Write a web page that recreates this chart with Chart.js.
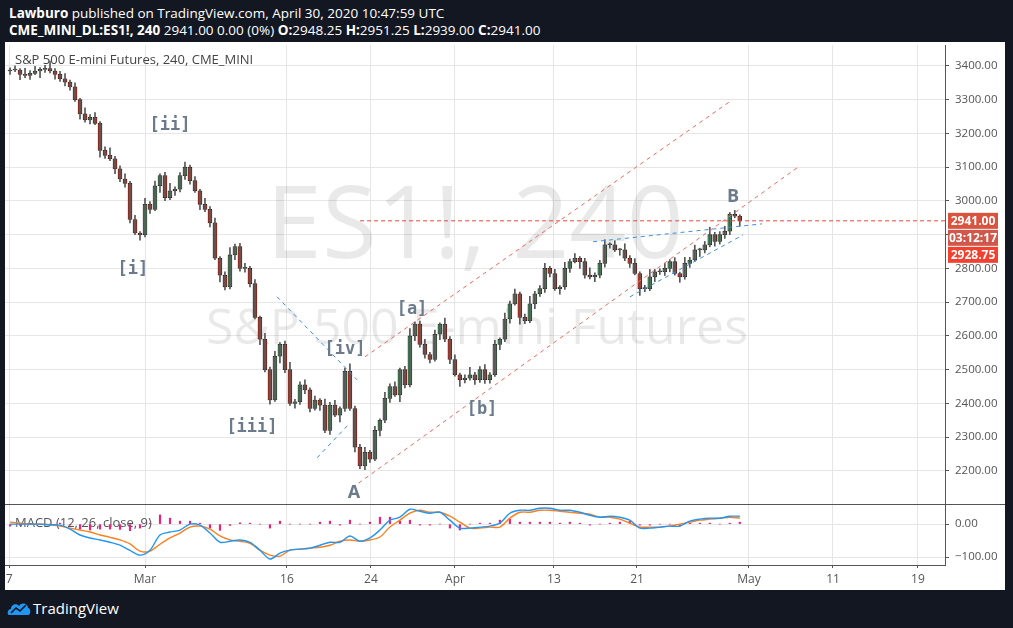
<!DOCTYPE html>
<html>
<head>
<meta charset="utf-8">
<script src="https://cdn.jsdelivr.net/npm/chart.js@4.4.1/dist/chart.umd.min.js"></script>
<style>
  body { margin: 0; background: #131722; width: 1013px; height: 628px; overflow: hidden; font-family: "Open Sans", sans-serif; }
  #panel { position: absolute; left: 5px; top: 42px; width: 1000px; height: 548px; background: #fff; }
  .hdr { position: absolute; left: 9px; color: #fff; font-size: 13.5px; white-space: nowrap; }
  #main { position: absolute; left: 5px; top: 45px; width: 1000px; height: 460px; }
  #macd { position: absolute; left: 5px; top: 505px; width: 1000px; height: 85px; }
  #sep { position: absolute; left: 5px; top: 504px; width: 1000px; height: 1px; background: #555; }
  #foot { position: absolute; left: 33px; top: 598px; color: #fff; font-size: 15px; }
</style>
</head>
<body>
<div id="panel"></div>
<div class="hdr" style="top:4px"><b>Lawburo</b> published on TradingView.com, April 30, 2020 10:47:59 UTC</div>
<div class="hdr" style="top:21px"><b>CME_MINI_DL:ES1!, 240</b> 2941.00 0.00 (0%) <b>O:</b>2948.25 <b>H:</b>2951.25 <b>L:</b>2939.00 <b>C:</b>2941.00</div>
<div id="main"><canvas id="mainChart"></canvas></div>
<div id="sep"></div>
<div id="macd"><canvas id="macdChart"></canvas></div>
<svg style="position:absolute;left:7px;top:600px" width="24" height="16" viewBox="0 0 24 16">
  <path d="M2 15 C0 15 0 9 4 9 C4 4 10 3 12 6 C14 2 21 3 21 8 C24 8 24 15 21 15 Z" fill="#2196f3"/>
  <path d="M4 13 L9 8 L13 11 L19 5" stroke="#131722" stroke-width="1.6" fill="none"/>
</svg>
<div id="foot">TradingView</div>
<script>
// time axis in trading days, 0 = Mar 2
const tickDays = [-9.71, 0, 10.14, 16.14, 22.14, 29.21, 35.14, 43.14, 49.14, 55.21];
const tickLabels = ["7", "Mar", "16", "24", "Apr", "13", "21", "May", "11", "19"];
const priceTicks = [2200, 2300, 2400, 2500, 2600, 2700, 2800, 2900, 3000, 3100, 3200, 3300, 3400];

const candleStart = -9.64;     // first candle, in trading days
const candleStep = 0.357;      // spacing between 4h candles
const firstOpen = 3385;
const closes = [
  3388, 3388, 3375, 3372, 3378, 3385, 3390, 3392, 3385, 3375, 3362, 3352, 3338, 3300, 3258, 3240, 3248, 3230,
  3150, 3135, 3125, 3095, 3065, 3052, 2945, 2905, 2900, 2990, 2975, 3045, 3075, 3010, 3030, 3035, 3075, 3100,
  3060, 3030, 2990, 2975, 2935, 2830, 2780, 2745, 2840, 2865, 2800, 2800, 2755, 2655, 2590, 2500, 2410, 2540,
  2575, 2500, 2400, 2405, 2455, 2440, 2385, 2410, 2395, 2320, 2395, 2365, 2385, 2495, 2385, 2270, 2215, 2255,
  2235, 2320, 2350, 2415, 2450, 2425, 2500, 2455, 2600, 2635, 2575, 2545, 2530, 2605, 2635, 2590, 2530, 2485,
  2470, 2475, 2485, 2470, 2500, 2470, 2485, 2575, 2590, 2650, 2695, 2725, 2655, 2645, 2695, 2725, 2740, 2800,
  2785, 2740, 2745, 2800, 2820, 2830, 2820, 2780, 2775, 2780, 2815, 2870, 2870, 2855, 2855, 2830, 2815, 2785,
  2740, 2740, 2775, 2790, 2790, 2800, 2820, 2785, 2775, 2815, 2825, 2855, 2855, 2870, 2900, 2880, 2900, 2910,
  2960, 2955, 2941
];
const wickUp = [6, 12, 4, 18, 8, 14, 5, 10, 22, 7, 9, 15];
const wickDown = [10, 5, 16, 7, 12, 4, 20, 9, 6, 14, 8, 11];

const macdStart = -9.64;
const macdStep = 0.714;
const macdLine = [
  0, 0, 0, 0, -2, -3, -15, -33, -42, -48, -55, -64, -80, -94,
  -79, -33, -24, -18, 0, -3, -27, -55, -52, -48, -55, -79, -106, -88, -79,
  -76, -73, -64, -55, -55, -36, -52, -42, -18, 12, 21, 45, 39, 33, 36,
  12, -12, -12, -9, -6, 3, 33, 42, 42, 48, 48, 42, 42, 36, 27,
  21, 24, 21, 12, -12, -12, -9, -6, -6, 9, 15, 18, 18, 24, 24
];
const signalLine = [
  6, 3, 0, 0, -2, -6, -12, -18, -24, -33, -40, -48, -60, -82,
  -82, -61, -42, -27, -9, -6, -15, -36, -48, -52, -58, -79, -94, -97, -79,
  -76, -73, -70, -64, -52, -48, -52, -48, -39, -9, 12, 33, 42, 36, 36,
  24, 6, -12, -12, -9, -9, 18, 36, 36, 42, 42, 39, 36, 33, 30,
  21, 21, 15, 3, -9, -9, -9, -6, 0, 6, 12, 15, 18, 21, 18
];

const lastPrice = 2941;
const redChannel = [
  [[15.71, 2538], [41.93, 3299]],
  [[14.79, 2150], [46.57, 3098]]
];
const blueLines = [
  [[9.43, 2716], [15.14, 2470]],
  [[12.29, 2239], [14.64, 2342]],
  [[32.0, 2879], [44.07, 2932]],
  [[34.64, 2716], [42.71, 2899]]
];
const waveLabels = [
  ["[ii]", 1.79, 3222], ["[i]", -0.86, 2796], ["[iii]", 7.64, 2327], ["[iv]", 14.29, 2561],
  ["[a]", 19.07, 2677], ["[b]", 24.07, 2381], ["A", 14.93, 2135], ["B", 42.0, 3012]
];

const xMin = -10, xMax = 57.14;

const bodies = [], wicks = [], bodyColors = [];
let prev = firstOpen;
closes.forEach((c, i) => {
  const x = candleStart + i * candleStep;
  const hi = Math.max(prev, c) + wickUp[i % wickUp.length];
  const lo = Math.min(prev, c) - wickDown[i % wickDown.length];
  bodies.push({ x: x, y: [prev, c] });
  wicks.push({ x: x, y: [lo, hi] });
  bodyColors.push(c >= prev ? "#4f9e6e" : "#d7402c");
  prev = c;
});

const macdPts = macdLine.map((v, i) => ({ x: macdStart + i * macdStep, y: v }));
const sigPts = signalLine.map((v, i) => ({ x: macdStart + i * macdStep, y: v }));
const histPts = macdLine.map((v, i) => ({ x: macdStart + i * macdStep, y: [0, v - signalLine[i]] }));

const lineSet = (pts, color, dash) => ({
  type: "line", data: pts.map(p => ({ x: p[0], y: p[1] })), borderColor: color,
  borderWidth: 1, borderDash: dash, pointRadius: 0, fill: false
});

const timeAxis = (showLabels) => ({
  type: "linear", min: xMin, max: xMax, offset: false,
  afterBuildTicks: s => { s.ticks = tickDays.map(v => ({ value: v })); },
  ticks: {
    display: showLabels, color: "#555", font: { size: 12, family: "Open Sans" }, maxRotation: 0, padding: 4,
    callback: (v, i) => tickLabels[i]
  },
  grid: { color: "#e6e6e6", drawTicks: showLabels, tickLength: 3, tickColor: "#555", offset: false },
  border: { display: showLabels, color: "#555" },
  afterFit: s => { s.height = showLabels ? 25 : 0; s.paddingLeft = 0; s.paddingRight = 0; }
});

const priceAxisFit = s => { s.width = 60; s.paddingTop = 0; s.paddingBottom = 0; };

const overlay = {
  id: "overlay",
  beforeDatasetsDraw(chart) {
    const { ctx } = chart;
    ctx.save();
    ctx.fillStyle = "rgba(0,0,0,0.085)";
    ctx.textAlign = "center";
    ctx.textBaseline = "middle";
    ctx.font = "100px 'Open Sans'";
    ctx.fillText("ES1!, 240", 470, 185);
    ctx.font = "50px 'Open Sans'";
    ctx.fillText("S&P 500 E-mini Futures", 472, 285);
    ctx.fillStyle = "#444";
    ctx.textAlign = "left";
    ctx.font = "13px 'Open Sans'";
    ctx.fillText("S&P 500 E-mini Futures, 240, CME_MINI", 10, 15);
    ctx.restore();
  },
  afterDatasetsDraw(chart) {
    const { ctx, scales } = chart;
    ctx.save();
    ctx.fillStyle = "#6b7b8c";
    ctx.textAlign = "center";
    ctx.textBaseline = "middle";
    waveLabels.forEach(l => {
      ctx.font = l[0].length === 1 ? "bold 18px 'Open Sans'" : "bold 17px 'DejaVu Sans Mono'";
      ctx.fillText(l[0], scales.x.getPixelForValue(l[1]), scales.y.getPixelForValue(l[2]));
    });
    const yp = scales.y.getPixelForValue(lastPrice);
    const x0 = scales.x.right + 3;
    const boxes = [["2941.00", "#d9533f", yp], ["03:12:17", "#d0574a", yp + 17], ["2928.75", "#f3402f", yp + 34]];
    ctx.font = "bold 12px 'Open Sans'";
    boxes.forEach(b => {
      ctx.fillStyle = b[1];
      ctx.fillRect(x0, b[2] - 8, 50, 16);
      ctx.fillStyle = "#fff";
      ctx.fillText(b[0], x0 + 25, b[2] + 1);
    });
    ctx.restore();
  }
};

new Chart(document.getElementById("mainChart"), {
  type: "bar",
  data: {
    datasets: [
      lineSet([[15.36, lastPrice], [xMax, lastPrice]], "#e8473a", [4, 3]),
      ...redChannel.map(l => lineSet(l, "#f06a60", [4, 4])),
      ...blueLines.map(l => lineSet(l, "#3d8ee0", [4, 4])),
      { data: wicks, backgroundColor: "#555", barThickness: 1, grouped: false },
      { data: bodies, backgroundColor: bodyColors, borderColor: "#2a1a1a", borderWidth: 0.8,
        barThickness: 4, grouped: false, minBarLength: 1, borderSkipped: false }
    ]
  },
  options: {
    responsive: true, maintainAspectRatio: false, animation: false,
    layout: { padding: 0 },
    plugins: { legend: { display: false }, tooltip: { enabled: false } },
    scales: {
      x: timeAxis(false),
      y: {
        position: "right", min: 2099, max: 3462,
        afterBuildTicks: s => { s.ticks = priceTicks.map(v => ({ value: v })); },
        ticks: { color: "#555", font: { size: 11.5, family: "Open Sans" }, padding: 6, callback: v => v.toFixed(2) },
        grid: { color: "#e6e6e6", tickLength: 4, tickColor: "#555" },
        border: { color: "#555" },
        afterFit: priceAxisFit
      }
    }
  },
  plugins: [overlay]
});

const macdTitle = {
  id: "macdTitle",
  beforeDatasetsDraw(chart) {
    const { ctx } = chart;
    ctx.save();
    ctx.fillStyle = "#555";
    ctx.font = "13px 'Open Sans'";
    ctx.textBaseline = "middle";
    ctx.fillText("MACD (12, 26, close, 9)", 10, 18);
    ctx.restore();
  }
};

new Chart(document.getElementById("macdChart"), {
  type: "bar",
  data: {
    datasets: [
      { type: "line", data: macdPts, borderColor: "#2196f3", borderWidth: 1.4, pointRadius: 0, tension: 0.3 },
      { type: "line", data: sigPts, borderColor: "#ff7f1e", borderWidth: 1.4, pointRadius: 0, tension: 0.3 },
      { data: histPts, backgroundColor: "#f0207a", barThickness: 1.5, grouped: false }
    ]
  },
  options: {
    responsive: true, maintainAspectRatio: false, animation: false,
    layout: { padding: 0 },
    plugins: { legend: { display: false }, tooltip: { enabled: false } },
    scales: {
      x: timeAxis(true),
      y: {
        position: "right", min: -124, max: 58,
        afterBuildTicks: s => { s.ticks = [{ value: -100 }, { value: 0 }]; },
        ticks: { color: "#555", font: { size: 11.5, family: "Open Sans" }, padding: 6,
          callback: v => (v < 0 ? "\u2212" + (-v).toFixed(2) : v.toFixed(2)) },
        grid: { color: "#e6e6e6", tickLength: 4, tickColor: "#555" },
        border: { color: "#555" },
        afterFit: priceAxisFit
      }
    }
  },
  plugins: [macdTitle]
});
</script>
</body>
</html>
